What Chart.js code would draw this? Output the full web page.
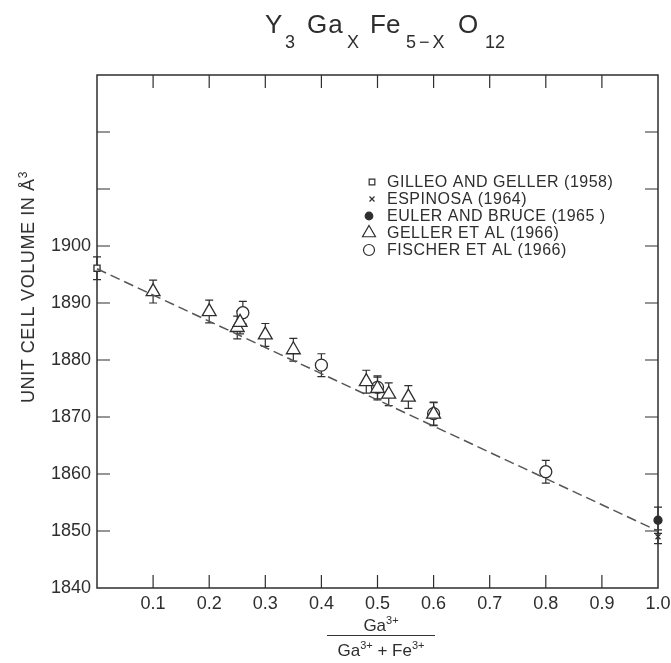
<!DOCTYPE html>
<html>
<head>
<meta charset="utf-8">
<script src="https://cdn.jsdelivr.net/npm/chart.js@4.4.1/dist/chart.umd.min.js"></script>
<style>
  html, body { margin: 0; padding: 0; background: #fff; }
  #wrap { position: relative; width: 671px; height: 663px; font-family: "Liberation Sans", Arial, sans-serif; color: #2e2e2e; }
  #chart { position: absolute; left: 0; top: 0; }
  .t { position: absolute; white-space: nowrap; line-height: 1; }
  .big { font-size: 26px; top: 11px; }
  .sub { font-size: 18px; top: 33px; }
  #ylab { left: 27px; top: 287px; font-size: 18px; letter-spacing: 0.6px; transform: translate(-50%, -50%) rotate(-90deg); }
  #ylab sup { font-size: 12px; }
  .frac { left: 381px; font-size: 17px; transform: translateX(-50%); }
  .frac sup { font-size: 11px; }
  #fracline { position: absolute; left: 327px; top: 635px; width: 108px; height: 1px; background: #333; }
</style>
</head>
<body>
<div id="wrap">
  <canvas id="chart" width="671" height="663"></canvas>
  <span class="t big" style="left:265px">Y</span>
  <span class="t sub" style="left:285px">3</span>
  <span class="t big" style="left:307px; letter-spacing:1px">Ga</span>
  <span class="t sub" style="left:347px">X</span>
  <span class="t big" style="left:370px">Fe</span>
  <span class="t sub" style="left:406px; letter-spacing:3px">5−X</span>
  <span class="t big" style="left:458px">O</span>
  <span class="t sub" style="left:485px">12</span>
  <span class="t" id="ylab">UNIT CELL VOLUME IN Å<sup>3</sup></span>
  <span class="t frac" style="top:615px">Ga<sup>3+</sup></span>
  <div id="fracline"></div>
  <span class="t frac" style="top:640px">Ga<sup>3+</sup> + Fe<sup>3+</sup></span>
</div>
<script>
// series (x = Ga/(Ga+Fe), y = unit cell volume)
const seriesLabels = ["GILLEO AND GELLER (1958)", "ESPINOSA (1964)", "EULER AND BRUCE (1965 )", "GELLER ET AL (1966)", "FISCHER ET AL (1966)"];

const gilleoX = [0.0];
const gilleoY = [1896.1];
const gilleoErr = [2.0];

const espinosaX = [1.0];
const espinosaY = [1849.0];
const espinosaErr = [1.2];

const eulerX = [1.0];
const eulerY = [1851.9];
const eulerErr = [2.3];

const gellerX = [0.10, 0.20, 0.25, 0.255, 0.30, 0.35, 0.48, 0.50, 0.52, 0.555, 0.60];
const gellerY = [1892.0, 1888.5, 1885.7, 1886.6, 1884.4, 1881.8, 1876.2, 1875.0, 1874.0, 1873.5, 1870.5];
const gellerErr = [2, 2, 2, 2, 2, 2, 2, 2, 2, 2, 2];

const fischerX = [0.26, 0.40, 0.50, 0.60, 0.80];
const fischerY = [1888.3, 1879.1, 1875.2, 1870.6, 1860.4];
const fischerErr = [2, 2, 2, 2, 2];

// dashed fit line
const fitX = [0.0, 1.0];
const fitY = [1896, 1850];

// axis ticks
const yLabelled = [1840, 1850, 1860, 1870, 1880, 1890, 1900];

const ink = "#2e2e2e";
const fontFamily = '"Liberation Sans", Arial, sans-serif';

function pts(xs, ys) {
  return xs.map((x, i) => ({ x: x, y: ys[i] }));
}

function marker(ctx, style, r, x, y, fill) {
  ctx.beginPath();
  if (style === "rect") {
    const s = r * Math.SQRT1_2;
    ctx.rect(x - s, y - s, 2 * s, 2 * s);
  } else if (style === "crossRot") {
    const s = r * Math.SQRT1_2;
    ctx.moveTo(x - s, y - s); ctx.lineTo(x + s, y + s);
    ctx.moveTo(x + s, y - s); ctx.lineTo(x - s, y + s);
  } else if (style === "triangle") {
    for (let k = 0; k < 3; k++) {
      const a = k * 2 * Math.PI / 3;
      const px = x + Math.sin(a) * r, py = y - Math.cos(a) * r;
      if (k === 0) ctx.moveTo(px, py); else ctx.lineTo(px, py);
    }
    ctx.closePath();
  } else {
    ctx.arc(x, y, r, 0, Math.PI * 2);
  }
  if (style !== "crossRot") { ctx.fillStyle = fill; ctx.fill(); }
  ctx.stroke();
}

const errorBars = {
  id: "errorBars",
  beforeDatasetsDraw(chart) {
    const { ctx, scales: { x, y } } = chart;
    ctx.save();
    ctx.strokeStyle = ink;
    ctx.lineWidth = 1.2;
    chart.data.datasets.forEach(ds => {
      if (!ds.errors) return;
      ds.data.forEach((p, i) => {
        const px = x.getPixelForValue(p.x);
        const top = y.getPixelForValue(p.y + ds.errors[i]);
        const bot = y.getPixelForValue(p.y - ds.errors[i]);
        ctx.beginPath();
        ctx.moveTo(px, top); ctx.lineTo(px, bot);
        ctx.moveTo(px - 4, top); ctx.lineTo(px + 4, top);
        ctx.moveTo(px - 4, bot); ctx.lineTo(px + 4, bot);
        ctx.stroke();
      });
    });
    ctx.restore();
  }
};

// frame with inward ticks on all four sides
const frame = {
  id: "frame",
  beforeDatasetsDraw(chart) {
    const { ctx, chartArea: a, scales: { x, y } } = chart;
    const len = 13;
    ctx.save();
    ctx.strokeStyle = ink;
    ctx.lineWidth = 1.5;
    ctx.strokeRect(a.left, a.top, a.right - a.left, a.bottom - a.top);
    ctx.lineWidth = 1.2;
    ctx.beginPath();
    x.ticks.forEach(t => {
      if (t.value <= x.min || t.value >= x.max) return;
      const px = x.getPixelForValue(t.value);
      ctx.moveTo(px, a.bottom); ctx.lineTo(px, a.bottom - len);
      ctx.moveTo(px, a.top); ctx.lineTo(px, a.top + len);
    });
    y.ticks.forEach(t => {
      if (t.value <= y.min || t.value >= y.max) return;
      const py = y.getPixelForValue(t.value);
      ctx.moveTo(a.left, py); ctx.lineTo(a.left + len, py);
      ctx.moveTo(a.right, py); ctx.lineTo(a.right - len, py);
    });
    ctx.stroke();
    ctx.restore();
  }
};

const legendBox = {
  id: "legendBox",
  afterDraw(chart) {
    const ctx = chart.ctx;
    const sets = chart.data.datasets.filter(d => d.label);
    ctx.save();
    ctx.font = "16px " + fontFamily;
    ctx.letterSpacing = "0.5px";
    ctx.textBaseline = "middle";
    sets.forEach((ds, i) => {
      const yy = 182 + i * 17;
      ctx.strokeStyle = ink;
      ctx.lineWidth = 1.2;
      const st = ds.pointStyle;
      const r = st === "rect" ? 4 : st === "crossRot" ? 3.5 : st === "triangle" ? 7.5 : 5.5;
      const mx = st === "rect" || st === "crossRot" ? 372 : 369;
      marker(ctx, st, ds.pointBackgroundColor === ink ? 3.8 : r, mx, yy, ds.pointBackgroundColor);
      ctx.fillStyle = ink;
      ctx.fillText(ds.label, 387, yy + 1);
    });
    ctx.restore();
  }
};

function series(label, xs, ys, errs, style, radius, fill) {
  return {
    type: "scatter",
    label: label,
    data: pts(xs, ys),
    errors: errs,
    pointStyle: style,
    pointRadius: radius,
    pointBorderColor: ink,
    pointBackgroundColor: fill,
    pointBorderWidth: 1.3,
    clip: false
  };
}

new Chart(document.getElementById("chart"), {
  type: "scatter",
  data: {
    datasets: [
      {
        type: "line",
        data: pts(fitX, fitY),
        borderColor: "#555",
        borderWidth: 1.5,
        borderDash: [10, 5],
        pointRadius: 0,
        fill: false,
        clip: false
      },
      series(seriesLabels[0], gilleoX, gilleoY, gilleoErr, "rect", 4.3, "#fff"),
      series(seriesLabels[1], espinosaX, espinosaY, espinosaErr, "crossRot", 3.5, "#fff"),
      series(seriesLabels[2], eulerX, eulerY, eulerErr, "circle", 4, ink),
      series(seriesLabels[3], gellerX, gellerY, gellerErr, "triangle", 8, "#fff"),
      series(seriesLabels[4], fischerX, fischerY, fischerErr, "circle", 6, "#fff")
    ]
  },
  options: {
    responsive: false,
    animation: false,
    devicePixelRatio: 1,
    layout: { padding: { top: 75, right: 0, bottom: 0, left: 0 } },
    plugins: { legend: { display: false }, tooltip: { enabled: false } },
    scales: {
      x: {
        type: "linear",
        min: 0,
        max: 1,
        afterFit(s) { s.height = 75; s.paddingRight = 13; s.paddingLeft = 0; },
        grid: { display: false, drawTicks: false },
        border: { display: false },
        ticks: {
          stepSize: 0.1,
          padding: 5,
          color: ink,
          maxRotation: 0,
          autoSkip: false,
          font: { family: fontFamily, size: 18 },
          callback: v => (v === 0 ? "" : v.toFixed(1))
        }
      },
      y: {
        min: 1840,
        max: 1930,
        afterFit(s) { s.width = 97; },
        grid: { display: false, drawTicks: false },
        border: { display: false },
        ticks: {
          stepSize: 10,
          padding: 6,
          color: ink,
          font: { family: fontFamily, size: 18 },
          callback: v => (yLabelled.includes(v) ? String(v) : "")
        }
      }
    }
  },
  plugins: [frame, errorBars, legendBox]
});
</script>
</body>
</html>
